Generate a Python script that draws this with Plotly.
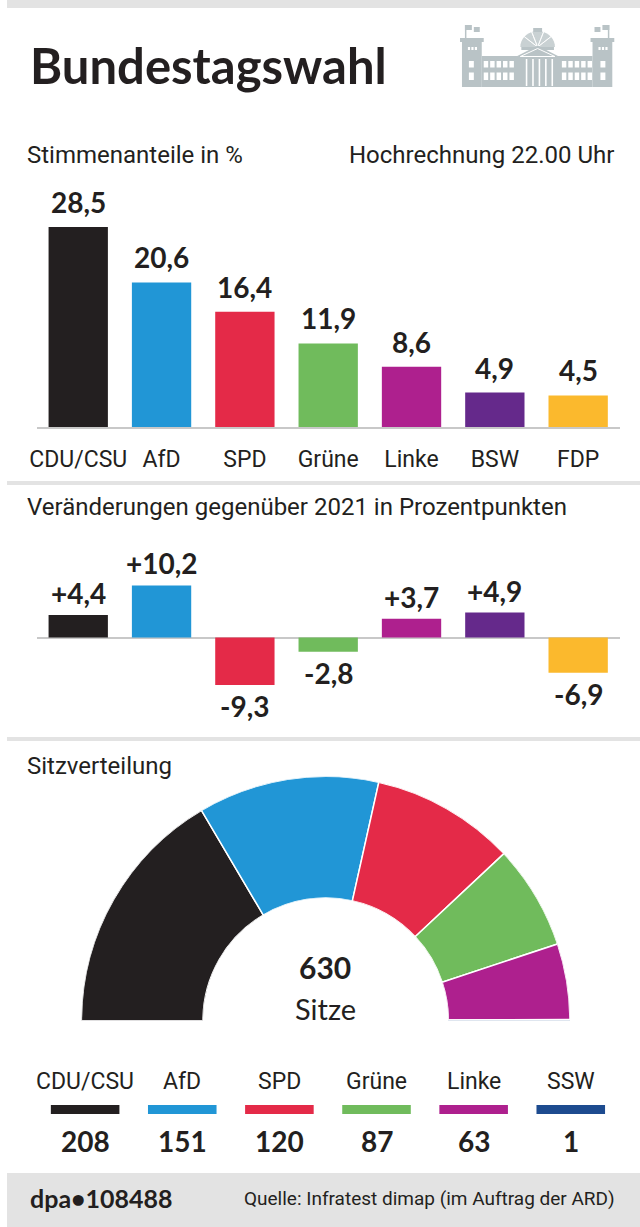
import plotly.graph_objects as go
import math

W, H = 640, 1227

# ---------------- data ----------------
parties = ["CDU/CSU", "AfD", "SPD", "Grüne", "Linke", "BSW", "FDP"]
vote_share = [28.5, 20.6, 16.4, 11.9, 8.6, 4.9, 4.5]
change_2021 = [4.4, 10.2, -9.3, -2.8, 3.7, 4.9, -6.9]
party_colors = ["#231f20", "#2196d6", "#e42a48", "#70bb5c", "#ae208e", "#65298b", "#fbb92d"]

seat_parties = ["CDU/CSU", "AfD", "SPD", "Grüne", "Linke", "SSW"]
seats = [208, 151, 120, 87, 63, 1]
seat_colors = ["#231f20", "#2196d6", "#e42a48", "#70bb5c", "#ae208e", "#1d4b8f"]

TITLE = "Bundestagswahl"
SUB1 = "Stimmenanteile in %"
SUB1_RIGHT = "Hochrechnung 22.00 Uhr"
SUB2 = "Veränderungen gegenüber 2021 in Prozentpunkten"
SUB3 = "Sitzverteilung"
CENTER_LBL = "Sitze"
FOOT_LEFT = "dpa•108488"
FOOT_RIGHT = "Quelle: Infratest dimap (im Auftrag der ARD)"

# ---------------- style ----------------
INK = "#231f20"
BAND = "#e3e3e3"
AXIS_GREY = "#c8c8c8"
ICON = "#b9c3c6"
BOLD = "Lato, Open Sans, sans-serif"
COND = "Roboto, Liberation Sans, sans-serif"


def fx(x):
    return x / W


def fy(y):
    return 1 - y / H


def de(v, sign=False):
    s = f"{v:+.1f}" if sign else f"{v:.1f}"
    return s.replace(".", ",")


# ---------------- traces ----------------
fig = go.Figure()

fig.add_trace(go.Bar(
    x=parties, y=vote_share, width=0.712,
    marker=dict(color=party_colors, line=dict(width=0)),
    hoverinfo="skip", xaxis="x", yaxis="y"))

fig.add_trace(go.Bar(
    x=parties, y=change_2021, width=0.712,
    marker=dict(color=party_colors, line=dict(width=0)),
    hoverinfo="skip", xaxis="x2", yaxis="y2"))

total = sum(seats)
thetas, widths = [], []
cum = 0
for s in seats:
    thetas.append((cum + s / 2) * 180 / total)
    widths.append(s * 180 / total)
    cum += s

fig.add_trace(go.Barpolar(
    r=[1] * len(seats), theta=thetas, width=widths,
    marker=dict(color=seat_colors, line=dict(color="white", width=1.5)),
    subplot="polar", hoverinfo="skip"))

# ---------------- shapes ----------------
shapes = []


def rect(x0, y0, x1, y1, color):
    shapes.append(dict(type="rect", xref="paper", yref="paper",
                       x0=fx(x0), x1=fx(x1), y0=fy(y1), y1=fy(y0),
                       fillcolor=color, line=dict(width=0), layer="above"))


def poly(points, color=None, line_color=None, lw=0):
    path = "M " + " L ".join(f"{fx(x):.5f},{fy(y):.5f}" for x, y in points) + " Z"
    shapes.append(dict(type="path", xref="paper", yref="paper", path=path,
                       fillcolor=color if color else "rgba(0,0,0,0)",
                       line=dict(width=lw, color=line_color or "rgba(0,0,0,0)"),
                       layer="above"))


# bands / separators
rect(0, 0, 640, 8, BAND)
rect(0, 481, 640, 485, BAND)
rect(0, 737, 640, 741, BAND)
rect(0, 1173, 640, 1227, BAND)

# Reichstag icon
rect(460, 40, 480, 87, ICON)
rect(592, 40, 612, 87, ICON)
rect(458, 38, 482, 42, ICON)
rect(590, 38, 614, 42, ICON)
rect(480, 56, 592, 87, ICON)
rect(520, 43, 553, 50, ICON)
pts = [(536.5 + 17.5 * math.cos(math.radians(a)), 47 - 16 * math.sin(math.radians(a)))
       for a in range(0, 181, 10)]
poly(pts, "#c9d1d3")
for a in (40, 70, 110, 140):
    poly([(536.5, 47), (536.5 + 17.5 * math.cos(math.radians(a)), 47 - 16 * math.sin(math.radians(a)))],
         None, "white", 0.8)
rect(532, 28, 541, 32, ICON)
poly([(513, 57.5), (536.5, 45.5), (560, 57.5)], ICON)
poly([(519, 56.5), (536.5, 48.5), (554, 56.5)], None, "white", 1)
# flags
rect(463, 25, 470, 30, ICON)
rect(472, 27, 478, 32, ICON)
rect(463, 25, 464.5, 40, ICON)
rect(594, 27, 600, 32, ICON)
rect(602, 25, 609, 30, ICON)
rect(607.5, 25, 609, 40, ICON)
# windows
for x in (466, 469.5, 473):
    rect(x, 47, x + 2.2, 50, "white")
    rect(x + 132, 47, x + 134.2, 50, "white")
for y0, y1 in ((61, 67.5), (72.5, 80)):
    rect(467, y0, 472, y1, "white")
    rect(600, y0, 605, y1, "white")
    for k in range(5):
        rect(482 + 6.5 * k, y0, 486.5 + 6.5 * k, y1, "white")
        rect(561 + 6.5 * k, y0, 565.5 + 6.5 * k, y1, "white")
for k in range(5):
    xc = 524.5 + 6.5 * k
    rect(xc, 59, xc + 1.6, 86, "white")

# legend colour bars (seat distribution)
for i, c in enumerate(seat_colors):
    shapes.append(dict(type="rect", xref="x3", yref="paper",
                       x0=i - 0.353, x1=i + 0.353, y0=fy(1114), y1=fy(1105),
                       fillcolor=c, line=dict(width=0), layer="above"))

# ---------------- annotations ----------------
ann = []


def text(t, x, y, anchor, family, size, weight=400, xref="paper"):
    ann.append(dict(text=t, x=fx(x) if xref == "paper" else x, y=fy(y),
                    xref=xref, yref="paper", xanchor=anchor, yanchor="middle",
                    showarrow=False,
                    font=dict(family=family, size=size, color=INK, weight=weight)))


def value_label(t, xcat, v, xref, yref, up_shift, down_shift):
    ann.append(dict(text=t, x=xcat, y=v, xref=xref, yref=yref, xanchor="center",
                    yanchor="bottom" if v >= 0 else "top",
                    yshift=up_shift if v >= 0 else down_shift, showarrow=False,
                    font=dict(family=BOLD, size=28, color=INK, weight=700)))


for p, v in zip(parties, vote_share):
    value_label(de(v), p, v, "x", "y", 6, -2)
for p, v in zip(parties, change_2021):
    value_label(de(v, True), p, v, "x2", "y2", 3, -2)

text(TITLE, 21, 65, "left", BOLD, 49, 700)
text(SUB1, 18, 154.5, "left", COND, 24)
text(SUB1_RIGHT, 616, 154.5, "right", COND, 24)
text(SUB2, 18, 507, "left", COND, 24)
text(SUB3, 18, 766, "left", COND, 24)
text(str(total), 322, 967, "center", BOLD, 30, 700)
text(CENTER_LBL, 322, 1008, "center", BOLD, 29)
for i, (p, s) in enumerate(zip(seat_parties, seats)):
    text(p, i, 1081, "center", COND, 23, xref="x3")
    text(str(s), i, 1141, "center", BOLD, 28, 700, xref="x3")
text(FOOT_LEFT, 21, 1198, "left", BOLD, 25, 700)
text(FOOT_RIGHT, 617, 1198, "right", COND, 19)

# ---------------- layout ----------------
xdom = [fx(29.9), fx(619.6)]
PX1 = 7.02   # px per percent
PX2 = 5.1    # px per point

fig.update_layout(
    width=W, height=H, margin=dict(l=0, r=0, t=0, b=0),
    paper_bgcolor="white", plot_bgcolor="white", showlegend=False,
    xaxis=dict(domain=xdom, range=[-0.5, 6.5], anchor="y", showline=True,
               linecolor=AXIS_GREY, linewidth=2, ticks="", showgrid=False,
               zeroline=False, ticklabelstandoff=10, fixedrange=True,
               tickfont=dict(family=COND, size=23, color=INK)),
    yaxis=dict(domain=[fy(427), fy(427 - 30 * PX1)], range=[0, 30], anchor="x",
               visible=False, fixedrange=True),
    xaxis2=dict(domain=xdom, range=[-0.5, 6.5], anchor="y2", visible=False,
                fixedrange=True),
    yaxis2=dict(domain=[fy(637.5 + 12 * PX2), fy(637.5 - 12 * PX2)], range=[-12, 12],
                anchor="x2", showgrid=False, showticklabels=False, ticks="",
                showline=False, zeroline=True, zerolinecolor=AXIS_GREY,
                zerolinewidth=2, fixedrange=True),
    xaxis3=dict(domain=[0, 1], range=[-0.8045, 5.7128], anchor="y3", visible=False,
                fixedrange=True),
    yaxis3=dict(domain=[fy(1160), fy(1065)], range=[0, 1], anchor="x3", visible=False,
                fixedrange=True),
    polar=dict(domain=dict(x=[fx(75.2), fx(569.2)], y=[fy(1022), fy(775)]),
               sector=[0, 180], hole=0.502, bgcolor="white",
               angularaxis=dict(direction="clockwise", rotation=180, visible=False,
                                showgrid=False, thetaunit="degrees"),
               radialaxis=dict(range=[0, 1], visible=False, showgrid=False)),
    shapes=shapes, annotations=ann,
)

POST = (
    "document.documentElement.style.overflow='hidden';"
    "document.body.style.margin='0';document.body.style.padding='0';"
    "document.body.style.overflow='hidden';"
    "var gd=document.getElementById('{plot_id}');"
    "gd.style.position='absolute';gd.style.left='0px';gd.style.top='0px';"
)

fig.write_html("out.html", config={"displayModeBar": False, "staticPlot": True},
               post_script=POST)
